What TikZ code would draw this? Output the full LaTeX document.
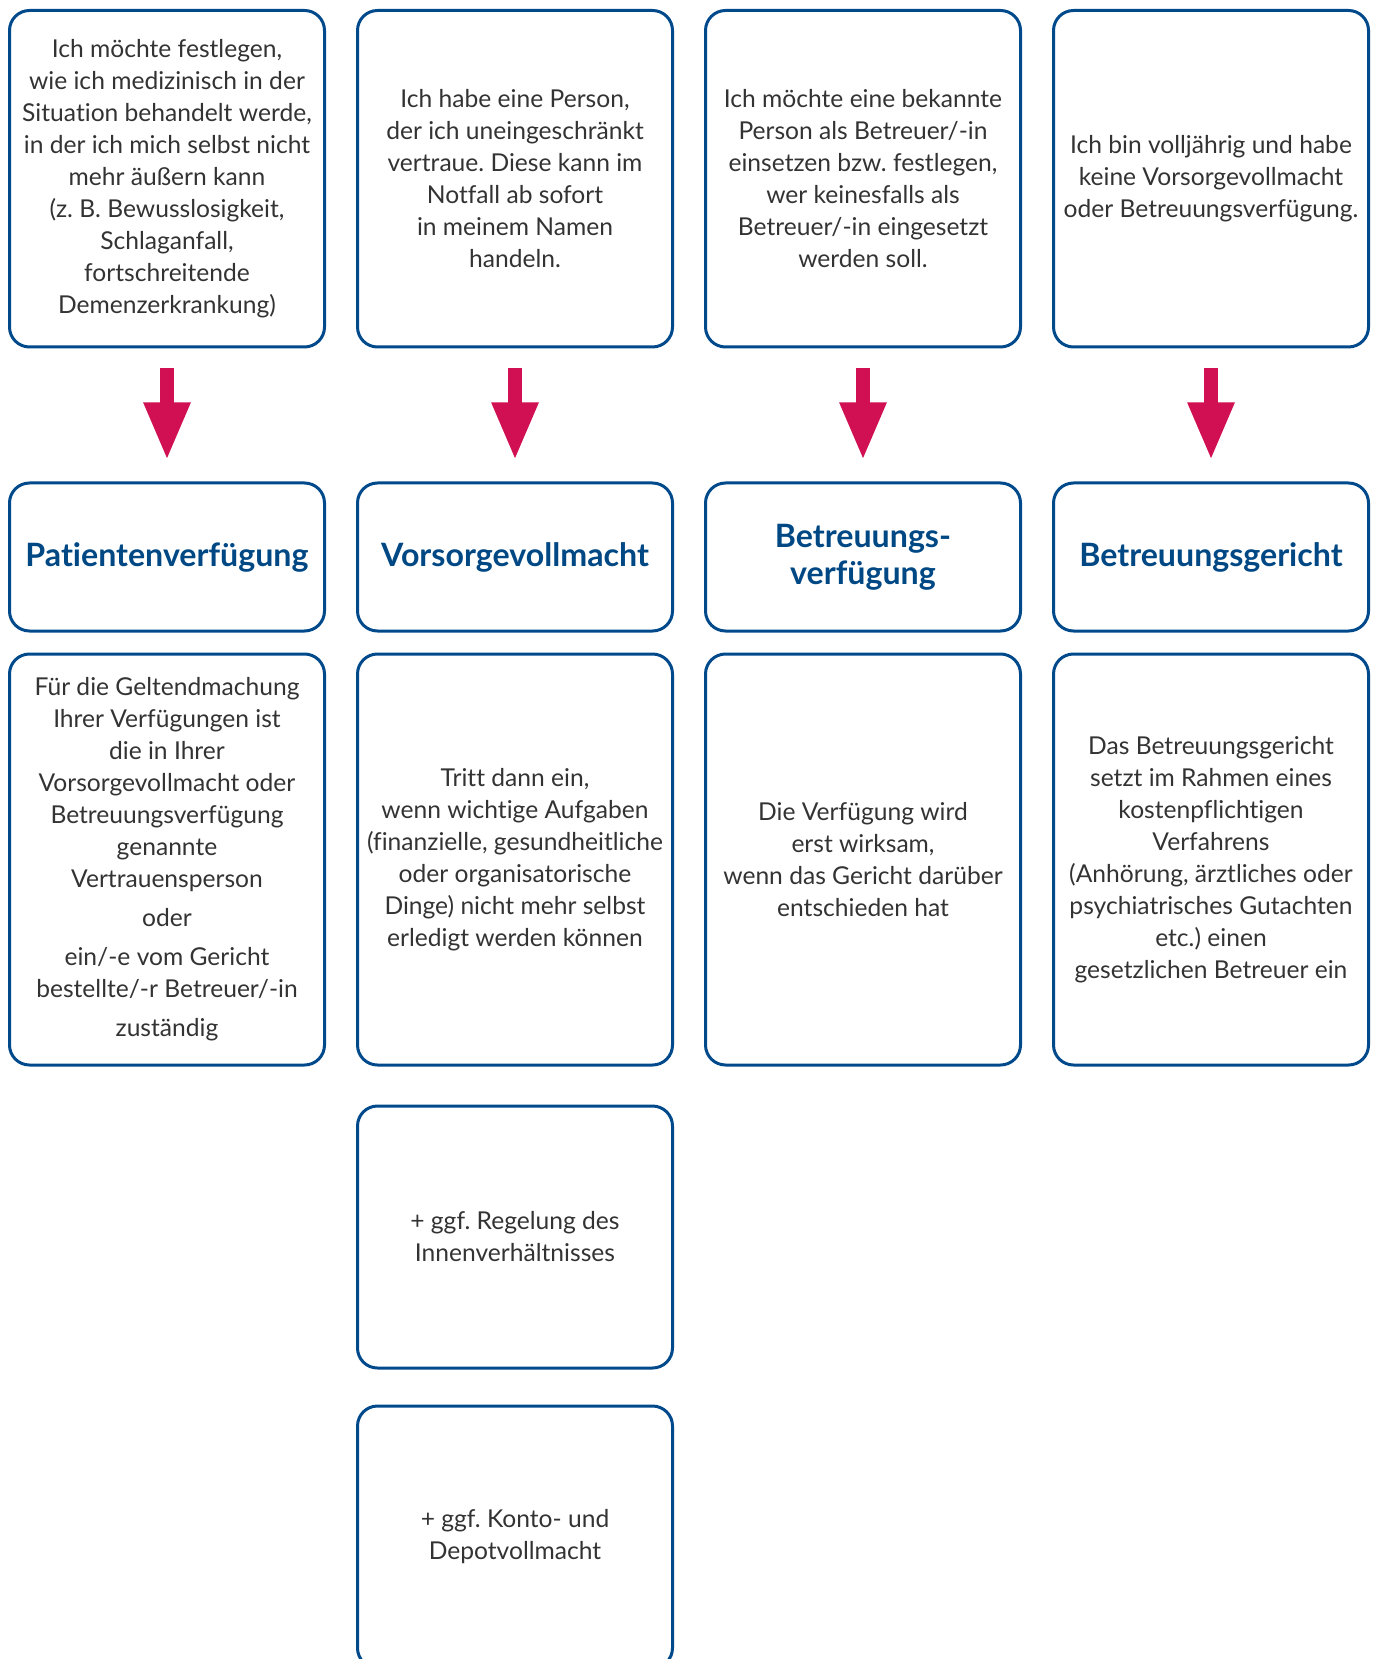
\documentclass[tikz,border=0pt]{standalone}
\usepackage{fontspec}
\setmainfont{Lato}[Ligatures=NoCommon]
\usetikzlibrary{positioning,arrows.meta}
\definecolor{boxblue}{RGB}{0,74,140}
\definecolor{titleblue}{RGB}{0,72,132}
\definecolor{arrowred}{RGB}{208,16,82}
\definecolor{textgray}{RGB}{51,51,51}
\newcommand{\boxtext}{\fontsize{14}{18.2}\selectfont}
\newcommand{\titletext}{\fontsize{18.3}{21}\selectfont\bfseries}
\frenchspacing

\begin{document}
\begin{tikzpicture}[
    node distance=0.40cm and 0.60cm,
    box/.style={rectangle, draw=boxblue, line width=0.06cm, rounded corners=0.4cm, minimum width=6.3cm, align=center, text=textgray, font=\boxtext},
    ask/.style={box, minimum height=6.73cm},
    tool/.style={box, minimum height=2.96cm, text=titleblue, font=\titletext},
    note/.style={box, minimum height=8.22cm},
    extra/.style={box, minimum height=5.24cm},
    arr/.style={-{Triangle[length=1.16cm, width=0.86cm]}, line width=0.28cm, draw=arrowred, shorten <=0.39cm, shorten >=0.42cm}
]
    \useasboundingbox (0,0) rectangle (27.5,-33.18);
    \clip (0,0) rectangle (27.5,-33.18);

    % first row: situations
    \node[ask, anchor=north west] (q1) at (0.16,-0.18) {Ich möchte festlegen,\\wie ich medizinisch in der\\Situation behandelt werde,\\in der ich mich selbst nicht\\mehr äußern kann\\(z. B. Bewusslosigkeit,\\Schlaganfall,\\fortschreitende\\Demenzerkrankung)};
    \node[ask, right=of q1] (q2) {Ich habe eine Person,\\der ich uneingeschränkt\\vertraue. Diese kann im\\Notfall ab sofort\\in meinem Namen\\handeln.};
    \node[ask, right=of q2] (q3) {Ich möchte eine bekannte\\Person als Betreuer/-in\\einsetzen bzw. festlegen,\\wer keinesfalls als\\Betreuer/-in eingesetzt\\werden soll.};
    \node[ask, right=of q3] (q4) {Ich bin volljährig und habe\\keine Vorsorgevollmacht\\oder Betreuungsverfügung.};

    % second row: instruments
    \node[tool, below=2.66cm of q1] (t1) {Patientenverfügung};
    \node[tool, below=2.66cm of q2] (t2) {Vorsorgevollmacht};
    \node[tool, below=2.66cm of q3] (t3) {Betreuungs-\\verfügung};
    \node[tool, below=2.66cm of q4] (t4) {Betreuungsgericht};

    % third row: explanations
    \node[note, below=of t1] (n1) {Für die Geltendmachung\\Ihrer Verfügungen ist\\die in Ihrer\\Vorsorgevollmacht oder\\Betreuungsverfügung\\genannte\\Vertrauensperson\\[4pt]oder\\[4pt]ein/-e vom Gericht\\bestellte/-r Betreuer/-in\\[4pt]zuständig};
    \node[note, below=of t2] (n2) {Tritt dann ein,\\wenn wichtige Aufgaben\\(finanzielle, gesundheitliche\\oder organisatorische\\Dinge) nicht mehr selbst\\erledigt werden können};
    \node[note, below=of t3] (n3) {Die Verfügung wird\\erst wirksam,\\wenn das Gericht darüber\\entschieden hat};
    \node[note, below=of t4] (n4) {Das Betreuungsgericht\\setzt im Rahmen eines\\kostenpflichtigen\\Verfahrens\\(Anhörung, ärztliches oder\\psychiatrisches Gutachten\\etc.) einen\\gesetzlichen Betreuer ein};

    % extras under the Vorsorgevollmacht
    \node[extra, below=0.76cm of n2] (e1) {+ ggf. Regelung des\\Innenverhältnisses};
    \node[extra, below=0.70cm of e1] (e2) {+ ggf. Konto- und\\Depotvollmacht};

    \draw[arr] (q1) -- (t1);
    \draw[arr] (q2) -- (t2);
    \draw[arr] (q3) -- (t3);
    \draw[arr] (q4) -- (t4);
\end{tikzpicture}
\end{document}
